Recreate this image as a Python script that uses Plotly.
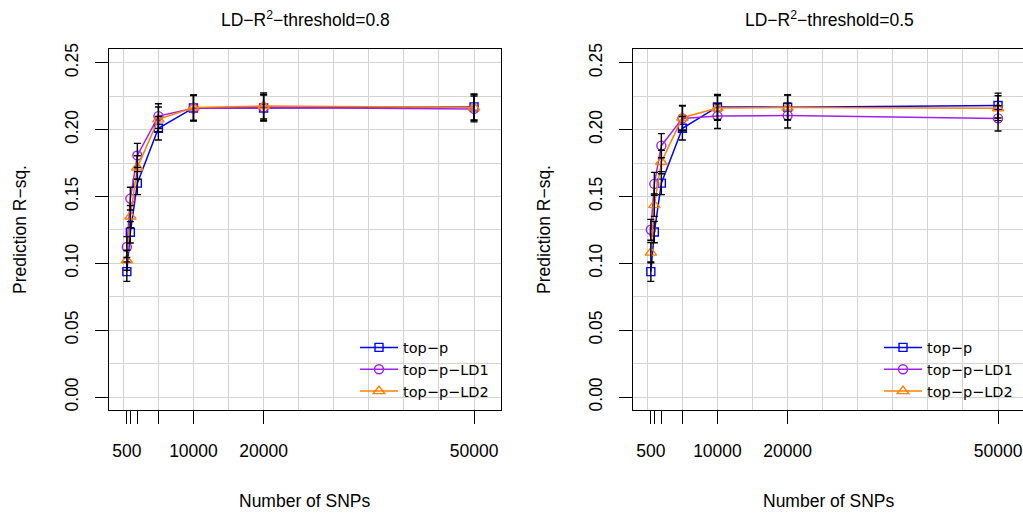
import plotly.graph_objects as go

# ---------------- data ----------------
n_snps = [500, 1000, 2000, 5000, 10000, 20000, 50000]
x_tick_labels = ["500", "", "", "", "10000", "20000", "50000"]
y_tick_vals = [0.00, 0.05, 0.10, 0.15, 0.20, 0.25]
y_tick_labels = ["0.00", "0.05", "0.10", "0.15", "0.20", "0.25"]
x_grid_vals = [0, 5000, 10000, 15000, 20000, 25000, 30000, 35000, 40000, 45000, 50000]

series_names = ["top\u2212p", "top\u2212p\u2212LD1", "top\u2212p\u2212LD2"]

# LD-R2-threshold = 0.8 (left)
left_top_p = [0.0938, 0.1232, 0.1600, 0.2010, 0.2162, 0.2162, 0.2170]
left_top_p_err = [0.0073, 0.0080, 0.0086, 0.0088, 0.0095, 0.0097, 0.0097]
left_ld1 = [0.1122, 0.1484, 0.1807, 0.2101, 0.2160, 0.2165, 0.2155]
left_ld1_err = [0.0078, 0.0085, 0.0090, 0.0092, 0.0095, 0.0097, 0.0097]
left_ld2 = [0.1023, 0.1350, 0.1717, 0.2077, 0.2165, 0.2177, 0.2165]
left_ld2_err = [0.0075, 0.0083, 0.0088, 0.0092, 0.0095, 0.0097, 0.0097]

# LD-R2-threshold = 0.5 (right)
right_top_p = [0.0938, 0.1234, 0.1600, 0.2010, 0.2170, 0.2168, 0.2180]
right_top_p_err = [0.0073, 0.0080, 0.0086, 0.0088, 0.0093, 0.0093, 0.0093]
right_ld1 = [0.1251, 0.1594, 0.1880, 0.2084, 0.2101, 0.2105, 0.2084]
right_ld1_err = [0.0078, 0.0086, 0.0090, 0.0092, 0.0093, 0.0093, 0.0094]
right_ld2 = [0.1080, 0.1435, 0.1758, 0.2089, 0.2162, 0.2165, 0.2160]
right_ld2_err = [0.0076, 0.0084, 0.0088, 0.0092, 0.0093, 0.0093, 0.0093]

colors = ["#0000FF", "#A020F0", "#FF7F00"]
symbols = ["square-open", "circle-open", "triangle-up-open"]
sizes = [8, 9, 10]

FONT = "Liberation Sans, Arial, Helvetica, sans-serif"
LEG_FONT = "DejaVu Sans, Liberation Sans, sans-serif"
FS = 17.5
LEG_FS = 14.5
W, H = 1023, 513

def px_x(p):
    return p / W

def px_y(p):
    return 1 - p / H

fig = go.Figure()

panels = [
    dict(vals=[left_top_p, left_ld1, left_ld2],
         errs=[left_top_p_err, left_ld1_err, left_ld2_err],
         xa="x", ya="y", xo="x3", legend="legend"),
    dict(vals=[right_top_p, right_ld1, right_ld2],
         errs=[right_top_p_err, right_ld1_err, right_ld2_err],
         xa="x2", ya="y2", xo="x4", legend="legend2"),
]

for p in panels:
    for i in range(3):
        fig.add_trace(go.Scatter(
            x=n_snps, y=p["vals"][i], mode="lines+markers", name=series_names[i],
            xaxis=p["xa"], yaxis=p["ya"], legend=p["legend"],
            line=dict(color=colors[i], width=1.5),
            marker=dict(symbol=symbols[i], size=sizes[i], color=colors[i],
                        line=dict(color=colors[i], width=1.4)),
            hoverinfo="skip"))
    for i in range(3):
        fig.add_trace(go.Scatter(
            x=n_snps, y=p["vals"][i], mode="markers", showlegend=False,
            xaxis=p["xo"], yaxis=p["ya"],
            marker=dict(size=2, color="black", opacity=0),
            error_y=dict(type="data", array=p["errs"][i], visible=True,
                         color="black", thickness=1.4, width=3.5),
            hoverinfo="skip"))

grid_col = "#D3D3D3"
y_dom = [px_y(410), px_y(44)]
left_dom = [px_x(109.3), px_x(500.7)]
right_dom = [px_x(633.3), 1.0]
xr_left = [-2000, 53800]
xr_right = [-2000, -2000 + (1023 - 633.3) / ((500.7 - 109.3) / 55800)]

def grid_xaxis(dom, rng, anchor):
    return dict(domain=dom, range=rng, anchor=anchor, tickmode="array",
                tickvals=x_grid_vals, showticklabels=False, ticks="",
                showgrid=True, gridcolor=grid_col, gridwidth=1.2,
                showline=True, mirror=True, linecolor="black", linewidth=1.3,
                zeroline=False, fixedrange=True)

def tick_xaxis(over, rng, anchor):
    return dict(overlaying=over, range=rng, anchor=anchor, side="bottom",
                tickmode="array", tickvals=n_snps, ticktext=x_tick_labels,
                ticks="outside", ticklen=13, tickwidth=1.3, tickcolor="black",
                showgrid=False, showline=False, zeroline=False,
                ticklabelstandoff=12,
                tickfont=dict(family=FONT, size=FS, color="black"),
                fixedrange=True)

def yaxis(anchor, mirror):
    return dict(domain=y_dom, range=[-0.01, 0.26], anchor=anchor,
                tickmode="array", tickvals=y_tick_vals, ticktext=y_tick_labels,
                ticks="outside", ticklen=13, tickwidth=1.3, tickcolor="black",
                tickangle=-90, ticklabelstandoff=10,
                tickfont=dict(family=FONT, size=FS, color="black"),
                showgrid=True, gridcolor=grid_col, gridwidth=1.2,
                minor=dict(tickmode="linear", tick0=0, dtick=0.025, showgrid=True,
                           gridcolor=grid_col, gridwidth=1.2, ticks=""),
                showline=True, mirror=mirror, linecolor="black", linewidth=1.3,
                zeroline=False, fixedrange=True)

legend_common = dict(xanchor="left", yanchor="top", bgcolor="rgba(0,0,0,0)",
                     font=dict(family=LEG_FONT, size=LEG_FS, color="black"),
                     itemwidth=38,
                     tracegroupgap=0, itemclick=False, itemdoubleclick=False)

fig.update_layout(
    width=W, height=H, autosize=False,
    margin=dict(l=0, r=0, t=0, b=0),
    paper_bgcolor="white", plot_bgcolor="white",
    font=dict(family=FONT, size=FS, color="black"),
    xaxis=grid_xaxis(left_dom, xr_left, "y"),
    xaxis2=grid_xaxis(right_dom, xr_right, "y2"),
    xaxis3=tick_xaxis("x", xr_left, "y"),
    xaxis4=tick_xaxis("x2", xr_right, "y2"),
    yaxis=yaxis("x", True),
    yaxis2=yaxis("x2", False),
    legend=dict(x=px_x(355), y=px_y(330), **legend_common),
    legend2=dict(x=px_x(879), y=px_y(330), **legend_common),
    showlegend=True,
)
# right panel: top border via x-axis mirror (its right edge is cut off in the picture)
fig.layout.xaxis2.mirror = True

titles = [
    ("LD\u2212R<sup>2</sup>\u2212threshold=0.8", 305),
    ("LD\u2212R<sup>2</sup>\u2212threshold=0.5", 829),
]
for text, cx in titles:
    fig.add_annotation(text=text, x=px_x(cx), y=px_y(13), xref="paper", yref="paper",
                       xanchor="center", yanchor="middle", showarrow=False,
                       font=dict(family=FONT, size=FS, color="black"))
for cx in (305, 829):
    fig.add_annotation(text="Number of SNPs", x=px_x(cx), y=px_y(502), xref="paper",
                       yref="paper", xanchor="center", yanchor="middle", showarrow=False,
                       font=dict(family=FONT, size=FS, color="black"))
for cx in (20, 544):
    fig.add_annotation(text="Prediction R\u2212sq.", x=px_x(cx), y=px_y(227), xref="paper",
                       yref="paper", xanchor="center", yanchor="middle", showarrow=False,
                       textangle=-90, font=dict(family=FONT, size=FS, color="black"))

fig.write_html(
    "out.html",
    config={"displayModeBar": False, "staticPlot": False},
    post_script=("document.body.style.margin='0px';"
                 "document.body.style.padding='0px';"
                 "document.documentElement.style.overflow='hidden';"),
)
